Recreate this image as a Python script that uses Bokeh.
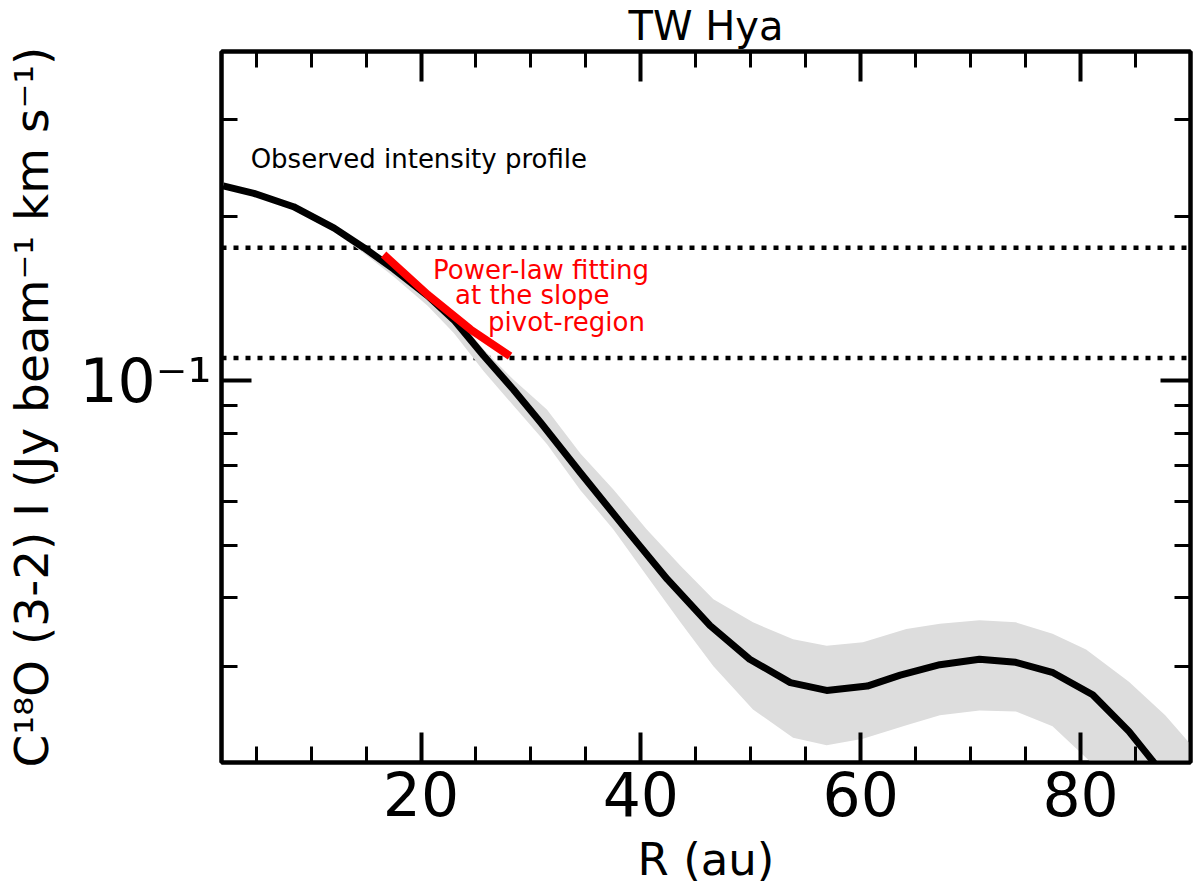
from bokeh.plotting import figure
from bokeh.models import (FixedTicker, LinearAxis, LogAxis, Span, Label, Range1d,
                          CustomJSTickFormatter)
from bokeh.embed import file_html
from bokeh.resources import INLINE

# ---------------- data ----------------
R = [2.0, 4.8, 8.4, 12.1, 14.8, 17.5, 20.6, 23.0, 25.7, 28.4, 30.9, 34.5, 38.4,
     42.4, 46.3, 49.9, 53.6, 56.9, 60.6, 63.6, 67.2, 70.8, 74.1, 77.5, 81.1,
     84.4, 86.5, 88.0]
I = [0.227, 0.220, 0.208, 0.190, 0.175, 0.160, 0.143, 0.129, 0.111, 0.0963,
     0.0837, 0.0678, 0.0542, 0.0433, 0.0356, 0.0309, 0.0280, 0.0271, 0.0276,
     0.0289, 0.0302, 0.0309, 0.0305, 0.0292, 0.0266, 0.0228, 0.0202, 0.0184]

R_band = [2.0, 5.0, 8.4, 12.1, 14.8, 17.5, 20.6, 23.0, 25.7, 28.4, 31.45, 34.5,
          37.5, 40.5, 43.6, 46.6, 50.2, 53.85, 56.9, 60.2, 64.15, 67.2, 70.8,
          74.1, 77.45, 80.5, 84.4, 87.7, 90.0]
I_hi = [0.229, 0.222, 0.210, 0.192, 0.177, 0.162, 0.145, 0.132, 0.114, 0.1004,
        0.0885, 0.0735, 0.0632, 0.0535, 0.0458, 0.0398, 0.0361, 0.0336, 0.0327,
        0.0332, 0.0351, 0.0359, 0.0364, 0.0361, 0.0344, 0.0322, 0.0281, 0.0244,
        0.0216]
I_lo = [0.225, 0.218, 0.206, 0.187, 0.171, 0.155, 0.137, 0.122, 0.104, 0.090,
        0.0765, 0.0630, 0.0534, 0.0440, 0.0361, 0.0300, 0.0250, 0.0222, 0.0215,
        0.0221, 0.0234, 0.0244, 0.0249, 0.0248, 0.0233, 0.0204, 0.0172, 0.0140,
        0.0125]

R_fit = [16.6, 20.6, 24.5, 28.1]
I_fit = [0.170, 0.1436, 0.124, 0.1108]

levels = [0.175, 0.11]

x_major = [20, 40, 60, 80]
x_minor = [5, 10, 15, 25, 30, 35, 45, 50, 55, 65, 70, 75, 85]
y_major = [0.1]
y_minor = [0.02, 0.03, 0.04, 0.05, 0.06, 0.07, 0.08, 0.09, 0.2, 0.3, 0.4]
y_major_labels = {0.1: "10\u207b\u00b9"}

title_text = "TW Hya"
y_label = "C\u00b9\u2078O (3-2) I (Jy beam\u207b\u00b9 km s\u207b\u00b9)"
x_label = "R (au)"
note_text = "Observed intensity profile"
fit_lines = ["Power-law fitting", "at the slope", "pivot-region"]

FONT = "DejaVu Sans"

# ---------------- figure ----------------
p = figure(width=1200, height=890, x_range=Range1d(1.85, 90.0),
           y_range=Range1d(0.02, 0.4), y_axis_type="log",
           output_backend="svg", toolbar_location=None,
           min_border_left=221, min_border_right=10, min_border_top=51,
           min_border_bottom=128)
p.title.text = title_text
p.title.align = "center"
p.title.vertical_align = "top"
p.title.text_font = FONT
p.title.text_font_size = "40px"
p.title.text_font_style = "normal"
p.title.text_color = "black"
p.title.text_line_height = 0.6
p.title.standoff = 1
p.grid.visible = False
p.background_fill_color = "white"
p.border_fill_color = "white"
p.outline_line_color = "black"
p.outline_line_width = 4

# uncertainty band
p.varea(x=R_band, y1=I_lo, y2=I_hi, fill_color="#dddddd")

# dotted level lines
for lv in levels:
    p.add_layout(Span(location=lv, dimension="width", line_color="black",
                      line_width=4.5, line_dash="5 7", level="underlay"))

# observed profile
p.line(R, I, line_color="black", line_width=7, line_join="round")
# power-law fit
p.line(R_fit, I_fit, line_color="red", line_width=8)


def style_axis(ax):
    ax.axis_line_color = "black"
    ax.axis_line_width = 4
    ax.major_tick_in = 30
    ax.major_tick_out = 0
    ax.minor_tick_in = 16
    ax.minor_tick_out = 0
    ax.major_tick_line_width = 4
    ax.minor_tick_line_width = 3
    ax.major_tick_line_color = "black"
    ax.minor_tick_line_color = "black"
    ax.major_label_text_font = FONT
    ax.major_label_text_color = "black"
    ax.major_label_text_font_size = "60px"


xa = p.xaxis[0]
xa.ticker = FixedTicker(ticks=x_major, minor_ticks=x_minor)
style_axis(xa)
xa.major_label_standoff = 8
xa.axis_label = x_label
xa.axis_label_text_font = FONT
xa.axis_label_text_font_size = "45px"
xa.axis_label_text_font_style = "normal"
xa.axis_label_text_color = "black"
xa.axis_label_standoff = 14

ya = p.yaxis[0]
ya.ticker = FixedTicker(ticks=y_major, minor_ticks=y_minor)
ya.major_label_overrides = y_major_labels
style_axis(ya)
ya.major_label_standoff = 10
ya.axis_label = y_label
ya.axis_label_text_font = FONT
ya.axis_label_text_font_size = "47px"
ya.axis_label_text_font_style = "normal"
ya.axis_label_text_color = "black"
ya.axis_label_standoff = 17

top = LinearAxis(ticker=FixedTicker(ticks=x_major, minor_ticks=x_minor),
                 formatter=CustomJSTickFormatter(code="return ''"))
style_axis(top)
top.major_label_standoff = 0
top.major_label_text_font_size = "10px"
p.add_layout(top, "above")

right = LogAxis(ticker=FixedTicker(ticks=y_major, minor_ticks=y_minor),
                formatter=CustomJSTickFormatter(code="return ''"))
style_axis(right)
right.major_label_standoff = 0
right.major_label_text_font_size = "10px"
p.add_layout(right, "right")

# annotations inside the frame
p.add_layout(Label(x=4.5, y=0.2544, text=note_text, text_align="left",
                   text_baseline="alphabetic", text_font=FONT,
                   text_font_size="26px", text_color="black"))
fit_pos = [(21.1, 0.159), (23.1, 0.1432), (26.1, 0.128)]
for (fx, fy), t in zip(fit_pos, fit_lines):
    p.add_layout(Label(x=fx, y=fy, text=t, text_align="left",
                       text_baseline="alphabetic", text_font=FONT,
                       text_font_size="26px", text_color="red"))

open("out.html", "w").write(file_html(p, INLINE))
